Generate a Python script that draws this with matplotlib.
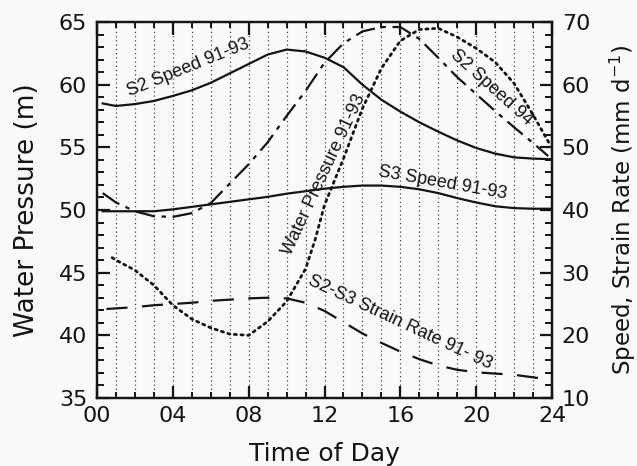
import matplotlib
matplotlib.use("Agg")
import matplotlib.pyplot as plt
from matplotlib.ticker import MultipleLocator

# ---- data ----
# S2 speed 91-93 (right axis, mm/d)
s2_hours = [0.3, 1, 2, 3, 4, 5, 6, 7, 8, 9, 10, 11, 12, 13, 14, 15, 16, 17, 18, 19, 20, 21, 22, 23, 24]
s2_speed = [57.0, 56.6, 56.9, 57.4, 58.2, 59.1, 60.3, 61.8, 63.3, 64.8, 65.6, 65.3, 64.3, 62.8, 60.0,
            57.6, 55.7, 54.0, 52.5, 51.1, 49.9, 49.0, 48.4, 48.2, 48.1]

# S3 speed 91-93 (right axis)
s3_hours = [0.3, 1, 2, 3, 4, 5, 6, 7, 8, 9, 10, 11, 12, 13, 14, 15, 16, 17, 18, 19, 20, 21, 22, 23, 24]
s3_speed = [39.8, 39.8, 39.8, 39.8, 40.1, 40.5, 40.9, 41.3, 41.7, 42.1, 42.6, 43.0, 43.4, 43.7, 43.9,
            43.9, 43.7, 43.3, 42.7, 41.9, 41.2, 40.6, 40.3, 40.2, 40.2]

# S2 speed 94 (right axis)
s294_hours = [0.3, 1, 2, 3, 4, 5, 6, 7, 8, 9, 10, 11, 12, 13, 14, 15, 16, 17, 18, 19, 20, 21, 22, 23, 23.8]
s294_speed = [42.7, 41.2, 39.8, 39.0, 38.9, 39.5, 41.1, 44.2, 47.3, 50.8, 55.0, 59.0, 63.5, 66.6, 68.5,
              69.2, 69.2, 67.3, 64.3, 61.2, 58.5, 55.8, 53.2, 50.7, 48.6]

# Water pressure 91-93 (left axis, m)
wp_hours = [0.8, 1, 2, 3, 4, 5, 6, 7, 8, 9, 10, 11, 11.5, 12, 13, 14, 15, 16, 17, 18, 19, 20, 21, 22, 23, 23.9]
wp_values = [46.2, 46.0, 45.2, 44.0, 42.4, 41.3, 40.6, 40.1, 40.0, 41.1, 42.7, 45.3, 47.6, 50.4, 54.1, 58.1,
             61.3, 63.5, 64.4, 64.5, 63.8, 62.9, 61.8, 60.1, 57.6, 55.2]

# S2-S3 strain rate 91-93 (right axis)
sr_hours = [0.5, 1, 2, 3, 4, 5, 6, 7, 8, 9, 10, 11, 12, 13, 14, 15, 16, 17, 18, 19, 20, 21, 22, 23, 24]
sr_values = [24.2, 24.3, 24.5, 24.8, 25.0, 25.2, 25.5, 25.7, 25.9, 26.0, 25.9, 25.2, 23.9, 22.1, 20.3,
             18.8, 17.4, 16.2, 15.2, 14.5, 14.1, 13.9, 13.7, 13.3, 12.9]

x_ticks = [0, 4, 8, 12, 16, 20, 24]
x_ticklabels = ["00", "04", "08", "12", "16", "20", "24"]
left_ticks = [35, 40, 45, 50, 55, 60, 65]
right_ticks = [10, 20, 30, 40, 50, 60, 70]

# ---- figure ----
bg = "#f8f9f8"
fig = plt.figure(figsize=(6.37, 4.66), dpi=100, facecolor=bg)
ax = fig.add_axes([97 / 637, 68 / 466, 455 / 637, 376 / 466])
ax.set_facecolor(bg)
ax2 = ax.twinx()

ink = "#141414"
tick_font = dict(family="DejaVu Sans", size=16)
in_font = dict(family="Liberation Sans", size=13, color=ink)

ax.set_xlim(0, 24)
ax.set_ylim(35, 65)
ax2.set_ylim(10, 70)

# hourly dotted grid
ax.xaxis.set_minor_locator(MultipleLocator(1))
ax.set_xticks(x_ticks)
ax.set_xticklabels(x_ticklabels, **tick_font, color=ink)
for h in range(1, 24):
    ax.axvline(h, color="#444444", lw=0.9, ls=(0, (1, 2.4)), zorder=0.5)

ax.set_yticks(left_ticks)
ax.set_yticklabels([str(v) for v in left_ticks], **tick_font, color=ink)
ax.yaxis.set_minor_locator(MultipleLocator(1))
ax2.set_yticks(right_ticks)
ax2.set_yticklabels([str(v) for v in right_ticks], **tick_font, color=ink)
ax2.yaxis.set_minor_locator(MultipleLocator(2))

ax.tick_params(axis="x", which="both", direction="in", top=True, bottom=True, color=ink)
ax.tick_params(axis="x", which="major", length=9, width=1.6, pad=6)
ax.tick_params(axis="x", which="minor", length=4.5, width=1.4)
ax.tick_params(axis="y", which="both", direction="in", left=True, right=False, color=ink)
ax.tick_params(axis="y", which="major", length=9, width=1.6, pad=7)
ax.tick_params(axis="y", which="minor", length=5, width=1.4)
ax2.tick_params(axis="y", which="both", direction="in", left=False, right=True, color=ink)
ax2.tick_params(axis="y", which="major", length=9, width=1.6, pad=7)
ax2.tick_params(axis="y", which="minor", length=5, width=1.4)

for a in (ax, ax2):
    for s in a.spines.values():
        s.set_linewidth(1.6)
        s.set_color(ink)

# ---- curves ----
ax2.plot(s2_hours, s2_speed, color=ink, lw=1.6)
ax2.plot(s3_hours, s3_speed, color=ink, lw=1.6)
ax2.plot(s294_hours, s294_speed, color=ink, lw=1.6, ls=(0, (9, 3, 2, 3)))
ax2.plot(sr_hours, sr_values, color=ink, lw=1.6, ls=(0, (9.5, 6.5)))
ax.plot(wp_hours, wp_values, color=ink, lw=2.0, ls=(0, (0.8, 1.6)), dash_capstyle="round")

# ---- axis labels ----
ax.set_xlabel("Time of Day", family="DejaVu Sans", size=18, color=ink)
ax.xaxis.set_label_coords(0.5, -0.117)
ax.set_ylabel("Water Pressure (m)", family="DejaVu Sans", size=19, color=ink)
ax.yaxis.set_label_coords(-0.125, 0.5)
ax2.set_ylabel("Speed, Strain Rate (mm d$^{-1}$)", family="DejaVu Sans", size=16.5, color=ink)
ax2.yaxis.set_label_coords(1.122, 0.5)

# ---- inline curve labels ----
ax2.text(4.8, 62.7, "S2 Speed 91-93", rotation=22, ha="center", va="center", **in_font)
ax2.text(18.25, 44.3, "S3 Speed 91-93", rotation=-10, ha="center", va="center", **in_font)
ax2.text(20.8, 59.6, "S2 Speed 94", rotation=-42, ha="center", va="center", **in_font)
ax.text(11.95, 52.8, "Water Pressure 91-93", rotation=65, ha="center", va="center", **in_font)
ax2.text(16.0, 22.0, "S2-S3 Strain Rate 91- 93", rotation=-25, ha="center", va="center", **in_font)

fig.savefig("out.png", dpi=100, facecolor=bg)
